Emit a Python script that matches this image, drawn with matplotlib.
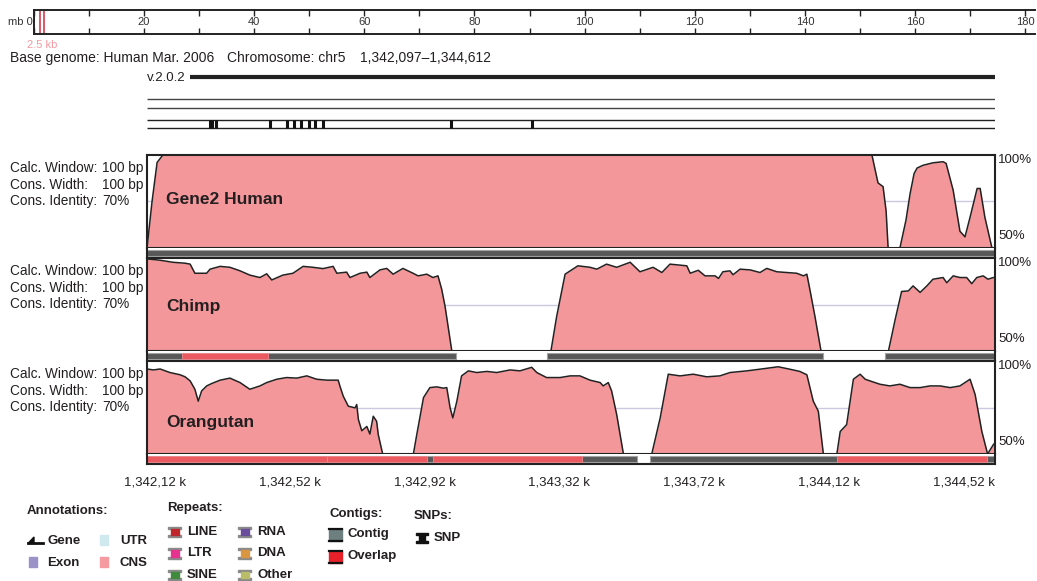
import numpy as np
import matplotlib
matplotlib.use('Agg')
import matplotlib.pyplot as plt
from matplotlib.patches import Rectangle, Polygon

plt.rcParams['font.family'] = ['Liberation Sans', 'DejaVu Sans']

W, H = 1037, 581
START, END = 1342097, 1344612
TXT = '#231f20'

# ruler in Mb
ruler_ticks = list(range(0, 181, 10))
ruler_labels = list(range(20, 181, 20))
window_mb = (1.342097, 1.344612)

# annotation track (offsets in bp from START)
gene_span = (128, 2515)
snp_off = [187, 193, 205, 365, 415, 436, 457, 481, 498, 522, 902, 1142]

# conservation curves: offset from START (bp), identity (%)
human_off = [0, 15, 30, 47, 2150, 2168, 2183, 2192, 2198, 2233, 2251, 2263, 2275, 2284,
             2302, 2331, 2361, 2370, 2391, 2411, 2426, 2441, 2462, 2471, 2485, 2506, 2515]
human_val = [50, 75, 96, 100, 100, 85, 83, 70, 50, 50, 65, 79, 90, 93,
             94.5, 95.8, 96.4, 95.5, 81, 59, 56, 66.5, 82, 82, 66.5, 50, 50]

chimp_off = [0, 18, 39, 77, 113, 128, 142, 177, 187, 217, 246, 276, 305, 335, 355, 370,
             403, 433, 463, 492, 522, 552, 563, 592, 602, 632, 652, 661, 691, 711, 730,
             759, 789, 804, 830, 848, 863, 874, 884, 904,
             1198, 1215, 1240, 1278, 1314, 1334, 1363, 1393, 1433, 1462, 1501, 1527, 1551,
             1601, 1611, 1635, 1655, 1685, 1695, 1708, 1729, 1738, 1759, 1789, 1818, 1838,
             1868, 1897, 1927, 1947, 1957, 1966, 1981, 1999,
             2199, 2219, 2238, 2258, 2272, 2293, 2313, 2331, 2361, 2372, 2391, 2411, 2431,
             2446, 2461, 2480, 2494, 2510, 2515]
chimp_val = [99.5, 99.2, 98.8, 97.7, 97.2, 96.7, 91.8, 91.8, 94, 95.5, 95, 93.1, 90.8, 89.5, 91.5, 88.2,
             90.8, 91.8, 95.5, 95, 94.3, 95.5, 91.8, 92.4, 89.5, 91.8, 92.4, 89.5, 93.6, 94.4, 91.3,
             94.4, 91.8, 90.4, 91.3, 89.5, 90.4, 83.2, 74, 50,
             50, 68.6, 91.3, 95.8, 95, 94, 96.7, 95, 97.7, 92.6, 95, 92.2, 96.7,
             95.8, 91.8, 93.4, 90.4, 90.4, 89, 92.6, 93.1, 91, 94, 93.6, 92.2, 94.4,
             92.6, 92.2, 91.8, 90.4, 91.3, 83, 68.6, 50,
             50, 67, 82, 82.3, 85, 81.5, 85, 88.6, 89.5, 86.7, 90.4, 89.5, 89.5,
             86.2, 89.5, 90.4, 88.6, 89.5, 89.5]

orang_off = [0, 19, 39, 68, 98, 113, 128, 142, 152, 162, 177, 192, 217, 246, 276, 305, 335,
             355, 385, 414, 444, 474, 503, 533, 567, 572, 582, 597, 617, 622, 627, 637, 652,
             661, 671, 681, 686, 699,
             790, 800, 820, 839, 859, 879, 889, 899, 907, 919, 933, 953, 978, 1008, 1037,
             1077, 1106, 1141, 1156, 1185, 1225, 1255, 1284, 1314, 1344, 1353, 1368, 1378,
             1393, 1413,
             1497, 1522, 1546, 1581, 1620, 1660, 1699, 1729, 1779, 1818, 1872, 1906, 1936,
             1957, 1976, 1991, 2006,
             2046, 2056, 2075, 2095, 2115, 2130, 2144, 2174, 2203, 2233, 2263, 2293, 2322,
             2352, 2382, 2411, 2441, 2456, 2476, 2493, 2510, 2515]
orang_val = [95.7, 95.2, 95.7, 93.8, 92.6, 91.5, 89.3, 84.8, 78.4, 83.9, 86.6, 87.9, 89.7, 90.8, 88.4, 84.8, 86.6,
             88.4, 90.2, 91.1, 90.8, 92, 90.2, 89.7, 89.7, 86.6, 81.1, 75.7, 74.8, 76.6, 68.5, 62.5, 64.8,
             60.7, 70.3, 67.6, 60.3, 50,
             50, 60.3, 80.3, 85.7, 86.1, 85.4, 85.7, 74.8, 69.4, 78.4, 92, 94.7, 93.8, 94.4, 93.8,
             95.2, 94.7, 96.6, 93.8, 91.1, 91.1, 92, 92, 89.7, 88.4, 86.6, 88.4, 83.9,
             71.2, 50,
             50, 69.4, 92.9, 92, 92.9, 91.5, 92, 93.8, 94.7, 95.6, 96.9, 95.6, 94.4,
             92.6, 78.4, 73, 50,
             50, 62.1, 65.8, 90.2, 92.9, 90.2, 89.3, 87.5, 86.6, 87.5, 85.7, 85.7, 86.6,
             86.6, 85.7, 86.6, 90.2, 82, 62.1, 50, 55, 56]

# contig / overlap bars: (offset, length)
human_contigs = [(0, 2515)]
human_overlaps = []
chimp_contigs = [(0, 916), (1186, 819), (2189, 326)]
chimp_overlaps = [(104, 255)]
orang_contigs = [(0, 1453), (1492, 1023)]
orang_overlaps = [(0, 534), (534, 296), (848, 442), (2046, 445)]

panel_names = ['Gene2 Human', 'Chimp', 'Orangutan']
tick_pos = [1342120, 1342520, 1342920, 1343320, 1343720, 1344120, 1344520]

FILL = '#f4979a'
GREY_BAR = '#585858'
RED_BAR = '#eb5a60'

fig = plt.figure(figsize=(W / 100, H / 100), dpi=100)


def px_axes(x0, y0, x1, y1):
    return fig.add_axes([x0 / W, 1 - y1 / H, (x1 - x0) / W, (y1 - y0) / H])


# overlay in pixel coordinates for free text and legend
ov = px_axes(0, 0, W, H)
ov.set_xlim(0, W)
ov.set_ylim(H, 0)
ov.axis('off')
ov.patch.set_visible(False)

# ---- ruler ----
rl = px_axes(34, 10, 1035, 34)
rl.set_xlim(0, 181.8)
rl.set_ylim(0, 1)
rl.set_xticks(ruler_ticks)
rl.set_xticklabels([])
rl.set_yticks([])
rl.tick_params(axis='x', direction='in', top=True, bottom=True, length=4.5, width=1, color='#222')
rl.spines['right'].set_visible(False)
for s in ['top', 'bottom', 'left']:
    rl.spines[s].set_linewidth(1.4)
    rl.spines[s].set_color('#222')
for v in ruler_labels:
    rl.text(v, 0.5, str(v), ha='center', va='center', fontsize=8, color='#333')
rl.text(-0.3, 0.5, 'mb 0', ha='right', va='center', fontsize=8, color='#333')
# window marker widened so that the 2.5 kb region is visible
rl.vlines([window_mb[0] - 0.25, window_mb[1] + 0.47], 0, 1, color='#d23c4a', lw=1.2)
ov.text(42, 45, '2.5 kb', ha='center', va='center', fontsize=8, color='#f29aa0')

ov.text(10, 58, 'Base genome: Human Mar. 2006', va='center', fontsize=10, color=TXT)
ov.text(227, 58, 'Chromosome: chr5', va='center', fontsize=10, color=TXT)
ov.text(360, 58, '1,342,097\u20131,344,612', va='center', fontsize=10, color=TXT)

# ---- annotation track ----
ga = px_axes(147, 65, 995, 135)
ga.set_xlim(START, END)
ga.set_ylim(135, 65)
ga.axis('off')
ga.hlines(77, START + gene_span[0], START + gene_span[1], color='#222', lw=3)
ga.hlines([99, 108], START, END, color='#444', lw=1)
ga.hlines([120, 128], START, END, color='#222', lw=1)
ga.vlines([START + s for s in snp_off], 120, 128, color='#111', lw=2.2)
ov.text(186, 78, 'v.2.0.2', ha='right', va='center', fontsize=9.5, color=TXT)

# ---- conservation panels ----
panel_top = [155, 258, 361]
title_dy = [44, 48, 61]
curves = [(human_off, human_val), (chimp_off, chimp_val), (orang_off, orang_val)]
bars = [(human_contigs, human_overlaps), (chimp_contigs, chimp_overlaps),
        (orang_contigs, orang_overlaps)]

for i, top in enumerate(panel_top):
    ax = px_axes(147, top, 995, top + 93)
    off, val = curves[i]
    pos = START + np.array(off)
    ax.axhline(75, color='#c9c9e0', lw=1, zorder=1)
    ax.fill_between(pos, val, 50, color=FILL, lw=0, zorder=2)
    ax.plot(pos, val, color='#222', lw=1.1, zorder=3)
    ax.set_xlim(START, END)
    ax.set_ylim(50, 100)
    ax.set_xticks([])
    ax.set_yticks([])
    for s in ax.spines.values():
        s.set_linewidth(1.5)
        s.set_color('#222')
    ax.text(1.004, 0.945, '100%', transform=ax.transAxes, ha='left', va='center',
            fontsize=9.5, color=TXT)
    ax.text(1.004, 0.13, '50%', transform=ax.transAxes, ha='left', va='center',
            fontsize=9.5, color=TXT)
    ax.text(166, top + title_dy[i], panel_names[i], transform=ov.transData,
            fontsize=12.5, fontweight='bold', va='center', color=TXT)

    ov.text(10, top + 13, 'Calc. Window:', fontsize=9.8, va='center', color=TXT)
    ov.text(102, top + 13, '100 bp', fontsize=9.8, va='center', color=TXT)
    ov.text(10, top + 30, 'Cons. Width:', fontsize=9.8, va='center', color=TXT)
    ov.text(102, top + 30, '100 bp', fontsize=9.8, va='center', color=TXT)
    ov.text(10, top + 46, 'Cons. Identity:', fontsize=9.8, va='center', color=TXT)
    ov.text(102, top + 46, '70%', fontsize=9.8, va='center', color=TXT)

    tr = px_axes(147, top + 93, 995, top + 103)
    tr.set_xlim(START, END)
    tr.set_ylim(0, 1)
    contigs, overlaps = bars[i]
    tr.broken_barh([(START + a, b) for a, b in contigs], (0.22, 0.56),
                   facecolor=GREY_BAR, edgecolor='#a3a3a3', lw=0.8)
    if overlaps:
        tr.broken_barh([(START + a, b) for a, b in overlaps], (0.22, 0.56),
                       facecolor=RED_BAR, edgecolor='#f08a8e', lw=0.6)
    tr.set_yticks([])
    tr.spines['top'].set_visible(False)
    for s in ['left', 'right', 'bottom']:
        tr.spines[s].set_linewidth(1.5)
        tr.spines[s].set_color('#222')
    if i < 2:
        tr.spines['bottom'].set_visible(False)
        tr.set_xticks([])
    else:
        tr.set_xticks(tick_pos)
        tr.set_xticklabels([f"{p // 1000:,},{(p % 1000) // 10:02d} k" for p in tick_pos],
                           fontsize=9.5, color=TXT)
        tr.tick_params(axis='x', length=0, pad=9)

# ---- legend ----
def lab(x, y, s, **kw):
    ov.text(x, y, s, va='center', fontsize=9.5, fontweight='bold', color=TXT, **kw)


lab(27, 511, 'Annotations:')
ov.add_patch(Polygon([(28, 543.5), (34, 537), (34, 543.5)], closed=True, color='#111'))
ov.plot([28, 42.5], [543, 543], color='#111', lw=2)
lab(47, 541, 'Gene')
ov.add_patch(Rectangle((99.5, 535), 8, 10, color='#cfe9ee'))
lab(120, 541, 'UTR')
ov.add_patch(Rectangle((29, 557), 8, 9.5, color='#9b92c8'))
lab(47, 563, 'Exon')
ov.add_patch(Rectangle((99.5, 557), 8, 9.5, color='#f59aa0'))
lab(120, 563, 'CNS')

lab(167, 508, 'Repeats:')
rep_names = ['LINE', 'LTR', 'SINE', 'RNA', 'DNA', 'Other']
rep_colors = ['#c0272d', '#e6338f', '#3f8a3c', '#6a4c9c', '#d9953f', '#b9bd6a']
for k, (nm, c) in enumerate(zip(rep_names, rep_colors)):
    x = 168 if k < 3 else 238
    y = 532 + 21.5 * (k % 3)
    ov.add_patch(Rectangle((x, y - 5.5), 13, 2, color='#8a8a8a'))
    ov.add_patch(Rectangle((x, y + 3), 13, 2, color='#8a8a8a'))
    ov.add_patch(Rectangle((x + 2.5, y - 3.5), 8, 6.5, color=c))
    lab(x + 19, y, nm)

lab(329, 514, 'Contigs:')
for k, (nm, c) in enumerate([('Contig', '#6e7f80'), ('Overlap', '#e8202a')]):
    y = 535 + 22 * k
    ov.add_patch(Rectangle((329, y - 6), 13, 12, color=c))
    ov.plot([329, 342], [y - 6, y - 6], color='#111', lw=1.6)
    ov.plot([329, 342], [y + 6, y + 6], color='#111', lw=1.6)
    lab(347, y - 1, nm)

lab(414, 516, 'SNPs:')
ov.add_patch(Rectangle((416, 533), 12, 2, color='#111'))
ov.add_patch(Rectangle((416, 541), 12, 2, color='#111'))
ov.add_patch(Rectangle((419, 534), 6, 8, color='#111'))
lab(434, 538, 'SNP')

fig.savefig('out.png', dpi=100)
